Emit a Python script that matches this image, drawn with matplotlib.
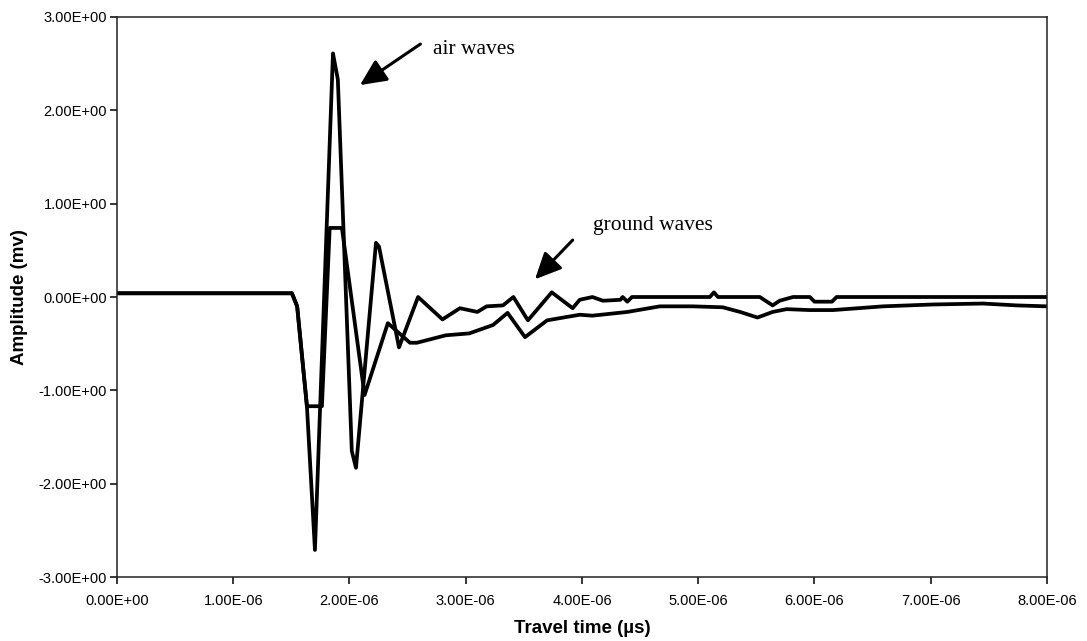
import numpy as np
import matplotlib
matplotlib.use("Agg")
import matplotlib.pyplot as plt
from matplotlib.ticker import FuncFormatter, MultipleLocator

# air wave trace (time in microseconds, amplitude in mV)
air_t = [0.0, 1.505, 1.55, 1.634, 1.703, 1.858, 1.90, 2.02, 2.056, 2.228, 2.254,
         2.426, 2.59, 2.80, 2.95, 3.10, 3.18, 3.32, 3.41, 3.535, 3.74, 3.92,
         3.98, 4.09, 4.18, 4.33, 4.35, 4.39, 4.43, 5.10, 5.135, 5.17, 5.53,
         5.64, 5.70, 5.815, 5.96, 6.00, 6.15, 6.19, 8.0]
air_a = [0.04, 0.04, -0.10, -1.17, -2.71, 2.61, 2.33, -1.65, -1.83, 0.58, 0.54,
         -0.54, 0.00, -0.24, -0.12, -0.16, -0.10, -0.09, 0.00, -0.25, 0.05, -0.12,
         -0.03, 0.00, -0.04, -0.03, 0.00, -0.05, 0.00, 0.00, 0.05, 0.00, 0.00,
         -0.09, -0.04, 0.00, 0.00, -0.05, -0.05, 0.00, 0.00]

# ground wave trace
gnd_t = [0.0, 1.505, 1.55, 1.634, 1.763, 1.83, 1.935, 2.13, 2.33, 2.52, 2.58,
         2.83, 3.03, 3.235, 3.36, 3.51, 3.70, 3.98, 4.09, 4.39, 4.67, 4.95,
         5.21, 5.36, 5.51, 5.64, 5.76, 5.96, 6.16, 6.59, 7.02, 7.45, 7.74, 8.0]
gnd_a = [0.04, 0.04, -0.10, -1.17, -1.17, 0.74, 0.74, -1.05, -0.28, -0.49, -0.49,
         -0.41, -0.39, -0.30, -0.17, -0.43, -0.25, -0.19, -0.20, -0.16, -0.10, -0.10,
         -0.11, -0.16, -0.22, -0.16, -0.13, -0.14, -0.14, -0.10, -0.08, -0.07, -0.09, -0.10]

us = 1e-6

fig = plt.figure(figsize=(10.87, 6.41), dpi=100)
ax = fig.add_axes([0.1076, 0.0998, 0.8556, 0.8737])

ax.plot(np.array(air_t) * us, air_a, color="black", lw=2.7, solid_joinstyle="round")
ax.plot(np.array(gnd_t) * us, gnd_a, color="black", lw=2.7, solid_joinstyle="round")

ax.set_xlim(0, 8e-6)
ax.set_ylim(-3, 3)
ax.xaxis.set_major_locator(MultipleLocator(1e-6))
ax.yaxis.set_major_locator(MultipleLocator(1.0))
fmt = FuncFormatter(lambda v, p: f"{v:.2E}")
ax.xaxis.set_major_formatter(fmt)
ax.yaxis.set_major_formatter(fmt)

for s in ax.spines.values():
    s.set_linewidth(1.1)
    s.set_color("#222222")
ax.tick_params(direction="out", length=5, width=1.1, labelsize=10.5)
ax.tick_params(axis="x", pad=7)
ax.tick_params(axis="y", pad=2)
for lab in ax.get_xticklabels() + ax.get_yticklabels():
    lab.set_family("Liberation Sans")

ax.set_xlabel("Travel time (\u00b5s)", family="Liberation Sans", fontweight="bold",
              fontsize=13.5, labelpad=9)
ax.set_ylabel("Amplitude (mv)", family="Liberation Sans", fontweight="bold",
              fontsize=13.5, labelpad=8)

arrow = dict(arrowstyle="-|>,head_length=1.6,head_width=0.75", color="black", lw=2.2,
             shrinkA=0, shrinkB=0)
ax.annotate("", xy=(2.09 * us, 2.27), xytext=(2.61 * us, 2.71), arrowprops=arrow)
ax.text(2.72 * us, 2.65, "air waves", family="Liberation Serif", fontsize=15.5, va="center")
ax.annotate("", xy=(3.596 * us, 0.19), xytext=(3.92 * us, 0.61), arrowprops=arrow)
ax.text(4.095 * us, 0.77, "ground waves", family="Liberation Serif", fontsize=15.5, va="center")

fig.savefig("out.png", dpi=100)
